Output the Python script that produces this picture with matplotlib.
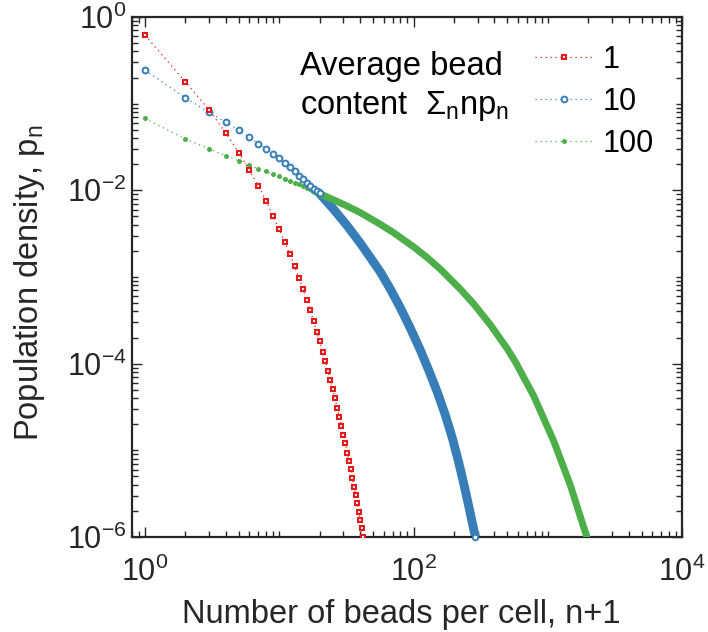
import numpy as np
import matplotlib
matplotlib.use('Agg')
import matplotlib.pyplot as plt
from matplotlib.ticker import LogLocator, LogFormatterMathtext, NullFormatter

plt.rcParams['font.family'] = ['Liberation Sans', 'DejaVu Sans']
plt.rcParams['mathtext.fontset'] = 'custom'
plt.rcParams['mathtext.rm'] = 'Liberation Sans'
plt.rcParams['mathtext.it'] = 'Liberation Sans:italic'
plt.rcParams['mathtext.bf'] = 'Liberation Sans:bold'
plt.rcParams['mathtext.sf'] = 'Liberation Sans'

# ---------------- data ----------------
series_labels = ['1', '10', '100']

# mean 1 : n+1 and log10(p_n)
red_x = [1, 2, 3, 4, 5, 6, 7, 8, 9, 10, 11, 12, 13, 14, 15, 16, 17, 18, 19, 20, 21,
         22, 23, 24, 25, 26, 27, 28, 29, 30, 31, 32, 33, 34, 35, 36, 37, 38, 39, 40, 41, 42]
red_log10_p = [-0.21, -0.748, -1.07, -1.34, -1.565, -1.77, -1.95, -2.127, -2.30, -2.45,
               -2.60, -2.74, -2.875, -3.01, -3.14, -3.26, -3.38, -3.51, -3.63, -3.74,
               -3.86, -3.97, -4.08, -4.19, -4.29, -4.40, -4.51, -4.61, -4.72, -4.82,
               -4.92, -5.03, -5.12, -5.22, -5.32, -5.42, -5.51, -5.61, -5.71, -5.80,
               -5.90, -6.00]

# mean 10 : individual markers, then the dense tail
blue_x = [1, 2, 3, 4, 5, 6, 7, 8, 9, 10, 11, 12, 13, 14, 15, 16, 17, 18, 19, 20]
blue_log10_p = [-0.613, -0.933, -1.10, -1.214, -1.306, -1.39, -1.46, -1.52, -1.58, -1.63,
                -1.69, -1.73, -1.78, -1.83, -1.87, -1.91, -1.95, -1.99, -2.01, -2.03]
blue_tail_x = [19.69, 25.46, 32.03, 40.24, 49.43, 56.69, 67.3, 79.9, 94.8, 112.6,
               129.8, 150.7, 172.8, 194.9, 217.1, 237.3, 257.6, 274.5, 289.0]
blue_tail_log10_p = [-2.027, -2.220, -2.408, -2.612, -2.810, -2.944, -3.141, -3.357,
                     -3.592, -3.846, -4.075, -4.332, -4.595, -4.862, -5.139, -5.391,
                     -5.640, -5.842, -6.000]

# mean 100 : individual markers, then the dense tail
green_x = [1, 2, 3, 4, 5, 6, 7, 8, 9, 10, 11, 12, 13, 14, 15, 16, 17, 18, 19, 20]
green_log10_p = [-1.17, -1.41, -1.52, -1.60, -1.66, -1.71, -1.75, -1.78, -1.815, -1.84,
                 -1.87, -1.89, -1.91, -1.93, -1.95, -1.97, -1.98, -2.00, -2.01, -2.03]
green_tail_x = [18.07, 32.03, 40.24, 56.69, 71.2, 100.3, 126.3, 158.6, 223.5, 280.7,
                373.8, 497.7, 573.8, 785.3, 1106.4, 1473.6, 1955.0]
green_tail_log10_p = [-2.007, -2.181, -2.258, -2.393, -2.489, -2.653, -2.775, -2.910,
                      -3.141, -3.310, -3.552, -3.825, -3.979, -4.371, -4.891, -5.403,
                      -6.000]

RED, BLUE, GREEN = '#E41A1C', '#377EB8', '#4DAF4A'
AX = '#262626'

def p(v):
    return np.power(10.0, np.asarray(v, dtype=float))

fig = plt.figure(figsize=(7.08, 6.32), dpi=100)
ax = fig.add_axes([132/708, 1-537/632, 550/708, 520/632])

dot = (0, (1, 3))
# dense tails (overlapping markers appear as a solid band)
ax.plot(blue_tail_x, p(blue_tail_log10_p), '-', color=BLUE,
        lw=6.4, solid_capstyle='round', solid_joinstyle='round', zorder=2)
ax.plot(green_tail_x, p(green_tail_log10_p), '-', color=GREEN,
        lw=5.0, solid_capstyle='round', solid_joinstyle='round', zorder=3)
ax.plot(blue_tail_x[-1:], p(blue_tail_log10_p[-1:]), 'o', ms=4.0, mew=1.4,
        mfc='white', mec=BLUE, zorder=4, clip_on=False)

h_red, = ax.plot(red_x, p(red_log10_p), linestyle=dot, lw=0.9, color=RED,
                 marker='s', ms=3.3, mew=1.5, mfc='white', mec=RED, zorder=5)
h_blue, = ax.plot(blue_x, p(blue_log10_p), linestyle=dot, lw=0.9, color=BLUE,
                  marker='o', ms=4.2, mew=1.4, mfc='white', mec=BLUE, zorder=4)
h_green, = ax.plot(green_x, p(green_log10_p), linestyle=dot, lw=0.9, color=GREEN,
                   marker='o', ms=3.6, mew=0, mfc=GREEN, zorder=3)

ax.set_xscale('log')
ax.set_yscale('log')
ax.set_xlim(0.8, 1e4)
ax.set_ylim(1e-6, 1)

ax.xaxis.set_major_locator(LogLocator(base=100.0, numticks=10))
ax.yaxis.set_major_locator(LogLocator(base=100.0, numticks=10))
ax.xaxis.set_minor_locator(LogLocator(base=10.0, subs=np.arange(1, 10), numticks=50))
ax.yaxis.set_minor_locator(LogLocator(base=10.0, subs=np.arange(1, 10), numticks=50))
ax.xaxis.set_major_formatter(LogFormatterMathtext(base=10.0))
ax.yaxis.set_major_formatter(LogFormatterMathtext(base=10.0))
ax.xaxis.set_minor_formatter(NullFormatter())
ax.yaxis.set_minor_formatter(NullFormatter())

ax.tick_params(which='both', direction='in', top=True, right=True, colors=AX,
               labelsize=22, width=1.0)
ax.tick_params(which='major', length=7)
ax.tick_params(which='minor', length=4)
ax.tick_params(axis='x', which='major', pad=14)
ax.tick_params(axis='y', which='major', pad=4)
for s in ax.spines.values():
    s.set_linewidth(1.6)
    s.set_color(AX)

ax.set_xlabel('Number of beads per cell, n+1', fontsize=23.5, color=AX, va='baseline')
ax.xaxis.set_label_coords(0.49, -0.165)
ax.set_ylabel(r'Population density, p$_{\mathrm{n}}$', fontsize=23.5, color=AX, va='baseline')
ax.yaxis.set_label_coords(-0.171, 0.489)

leg = ax.legend([h_red, h_blue, h_green], series_labels, loc='upper left',
                bbox_to_anchor=(0.732, 0.947), frameon=False, fontsize=22,
                handlelength=1.95, handletextpad=0.28, labelspacing=0.40,
                borderpad=0, borderaxespad=0, numpoints=1)

fig.text(300/708, 1-75/632, 'Average bead', fontsize=23.5, color='black', va='baseline')
fig.text(300/708, 1-114/632, r'content  $\Sigma_{\mathrm{n}}\mathrm{np}_{\mathrm{n}}$',
         fontsize=23.5, color='black', va='baseline')

fig.savefig('out.png', dpi=100)
